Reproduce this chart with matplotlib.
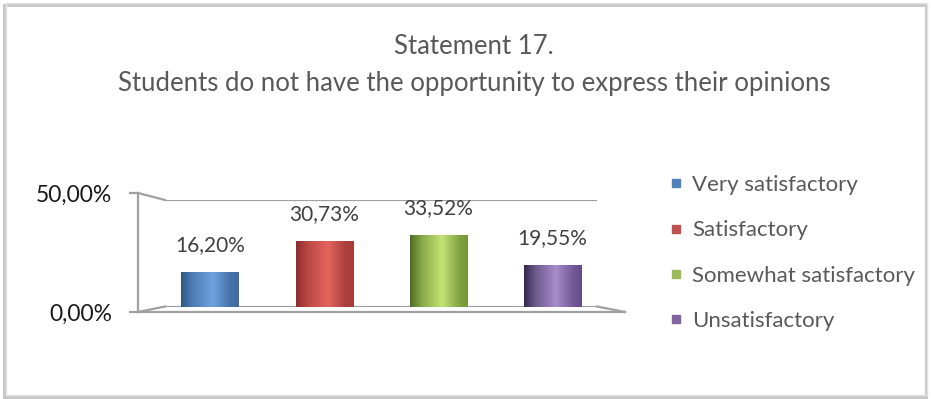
import numpy as np
import matplotlib
matplotlib.use("Agg")
import matplotlib.pyplot as plt
from matplotlib.lines import Line2D
from matplotlib.patches import Rectangle
from matplotlib.colors import to_rgb

# ---- data -------------------------------------------------------------
categories = ["Very satisfactory", "Satisfactory", "Somewhat satisfactory", "Unsatisfactory"]
values = [16.20, 30.73, 33.52, 19.55]
value_labels = ["16,20%", "30,73%", "33,52%", "19,55%"]
ytick_values = [0, 50]
ytick_labels = ["0,00%", "50,00%"]
title_lines = ["Statement 17.",
               "Students do not have the opportunity to express their opinions"]

# ---- style ------------------------------------------------------------
base_colors = ["#4f81bd", "#c0504d", "#9bbb59", "#8064a2"]
# cylinder shading: (left edge, highlight, right edge)
shades = [("#2f5687", "#6ea2e0", "#4573aa"),
          ("#8e2c2a", "#e4645f", "#ad403d"),
          ("#4d6c21", "#c3e474", "#83a443"),
          ("#34274b", "#a78dcc", "#735897")]
FONT = "Lato"
GRID = "#a0a0a0"
W, H = 931, 399

def fx(px):
    return px / W

def fy(py):
    return 1 - py / H

fig = plt.figure(figsize=(W / 100, H / 100), dpi=100)
fig.patch.set_facecolor("white")

# outer frame with a soft shadow on the left and bottom
fig.add_artist(Rectangle((fx(4), fy(397)), fx(926) - fx(4), fy(5) - fy(397),
                         transform=fig.transFigure, fill=False,
                         edgecolor="#c8c8c8", lw=2.2))
fig.add_artist(Rectangle((fx(6), fy(395)), fx(927) - fx(6), fy(3) - fy(395),
                         transform=fig.transFigure, fill=False,
                         edgecolor="#e2e2e2", lw=1.0))

# title
fig.text(fx(474), fy(47), title_lines[0], ha="center", va="center",
         fontsize=18.5, color="#595959", family=FONT)
fig.text(fx(474), fy(83), title_lines[1], ha="center", va="center",
         fontsize=18.5, color="#595959", family=FONT)

# ---- back wall axes (holds the bars) -----------------------------------
ax = fig.add_axes([fx(165), fy(306.5), fx(597) - fx(165), fy(200) - fy(306.5)])
ax.set_xlim(-0.394, 3.393)
ax.set_ylim(0, 50)
ax.axis("off")
ax.axhline(50, color=GRID, lw=1.6, zorder=1)
ax.axhline(0, color=GRID, lw=1.6, zorder=1)

x = np.arange(len(categories))
bars = ax.bar(x, values, width=0.5, color=base_colors, zorder=3,
              linewidth=0)

for bar, (c_left, c_mid, c_right) in zip(bars, shades):
    stops = np.array([0.0, 0.2, 0.55, 0.85, 1.0])
    cols = np.array([to_rgb(c_left), to_rgb(c_left), to_rgb(c_mid),
                     to_rgb(c_right), to_rgb(c_right)])
    cols[1] = 0.5 * cols[0] + 0.5 * cols[2]
    cols[4] = 0.75 * cols[3] + 0.25 * cols[0]
    t = np.linspace(0, 1, 200)
    grad = np.stack([np.interp(t, stops, cols[:, k]) for k in range(3)], axis=-1)
    x0, y0 = bar.get_x(), bar.get_y()
    w, h = bar.get_width(), bar.get_height()
    im = ax.imshow(grad[np.newaxis, :, :], extent=(x0, x0 + w, y0, y0 + h),
                   aspect="auto", zorder=4, interpolation="bilinear")
    im.set_clip_path(bar)

for xi, v, lab in zip(x, values, value_labels):
    ax.annotate(lab, (xi, v), xytext=(0, 19.5), textcoords="offset points",
                ha="center", va="center", fontsize=15, color="#404040",
                family=FONT, zorder=5)

# ---- front frame axes (value axis and floor edge) ----------------------
axf = fig.add_axes([fx(138), fy(312), fx(625) - fx(138), fy(193) - fy(312)])
axf.patch.set_visible(False)
axf.set_xlim(0, 1)
axf.set_ylim(0, 50)
for side in ("top", "right"):
    axf.spines[side].set_visible(False)
for side in ("left", "bottom"):
    axf.spines[side].set_color(GRID)
    axf.spines[side].set_linewidth(1.6)
axf.set_xticks([])
axf.set_yticks(ytick_values)
axf.set_yticklabels(ytick_labels, family=FONT, fontsize=16.5, color="#1a1a1a")
axf.tick_params(axis="y", length=6.5, width=1.6, color=GRID, pad=12)

# perspective edges joining the front frame to the back wall
for (xa, ya), (xb, yb) in [((138, 193), (165, 200)),
                           ((138, 312), (165, 306.5)),
                           ((597, 306.5), (625, 312))]:
    fig.add_artist(Line2D([fx(xa), fx(xb)], [fy(ya), fy(yb)],
                          transform=fig.transFigure, color=GRID, lw=1.6))

# ---- legend ------------------------------------------------------------
handles = [Line2D([], [], marker="s", linestyle="none", markersize=5.8,
                  markerfacecolor=c, markeredgecolor=c) for c in base_colors]
leg = fig.legend(handles, categories, loc="upper left",
                 bbox_to_anchor=(fx(670), fy(175)), frameon=False,
                 prop={"family": FONT, "size": 16}, labelcolor="#595959",
                 handlelength=0.55, handletextpad=0.45, labelspacing=1.14,
                 borderaxespad=0, borderpad=0)

fig.savefig("out.png", dpi=100)
